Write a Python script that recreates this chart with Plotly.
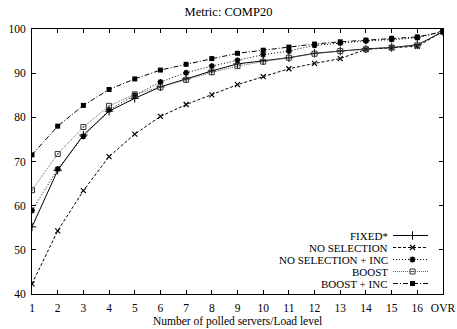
import plotly.graph_objects as go

categories = [str(i) for i in range(1, 17)] + ["OVR"]

fixed = [55.2, 68.0, 76.0, 81.4, 84.3, 86.9, 88.7, 90.5, 92.1, 92.8, 93.5, 94.5, 95.0, 95.5, 95.8, 96.4, 99.4]
no_sel = [42.3, 54.3, 63.4, 71.1, 76.2, 80.2, 82.9, 85.1, 87.4, 89.2, 91.0, 92.2, 93.3, 95.4, 95.8, 96.1, 99.4]
no_sel_inc = [58.9, 68.3, 75.7, 81.7, 85.0, 88.0, 90.1, 91.6, 92.9, 94.2, 95.0, 96.3, 96.8, 97.3, 97.6, 98.0, 99.4]
boost = [63.5, 71.7, 77.8, 82.6, 85.2, 86.8, 88.5, 90.2, 91.6, 92.6, 93.5, 94.4, 95.0, 95.4, 95.8, 96.3, 99.4]
boost_inc = [71.5, 78.0, 82.7, 86.3, 88.7, 90.7, 92.0, 93.3, 94.5, 95.2, 95.9, 96.6, 97.1, 97.5, 97.9, 98.2, 99.4]

series_names = ["FIXED*", "NO SELECTION", "NO SELECTION + INC", "BOOST", "BOOST + INC"]
series_values = [fixed, no_sel, no_sel_inc, boost, boost_inc]
y_ticks = [40, 50, 60, 70, 80, 90, 100]

FONT = "Liberation Serif"
styles = [
    dict(line=dict(color="black", width=1, dash="solid"),
         marker=dict(symbol="cross-thin", size=6, color="black", line=dict(color="black", width=1))),
    dict(line=dict(color="black", width=1, dash="3px,2px"),
         marker=dict(symbol="x-thin", size=5, color="black", line=dict(color="black", width=1.2))),
    dict(line=dict(color="black", width=1, dash="1px,2px"),
         marker=dict(symbol="asterisk-open", size=5, color="black", line=dict(color="black", width=1.5))),
    dict(line=dict(color="#666666", width=1, dash="1px,1px"),
         marker=dict(symbol="square-open-dot", size=5, color="#333333", line=dict(color="#333333", width=1))),
    dict(line=dict(color="black", width=1, dash="5px,2px,1px,2px"),
         marker=dict(symbol="square", size=5, color="black", line=dict(color="black", width=0))),
]

fig = go.Figure()
for name, vals, st in zip(series_names, series_values, styles):
    fig.add_trace(go.Scatter(x=categories, y=vals, mode="lines+markers", name=name,
                             line=st["line"], marker=st["marker"], showlegend=False))

# manual legend (text left, sample right) in an overlay pixel-like axis
leg_rows = [235.5, 247.5, 259.5, 271.5, 283.5]
for name, st, yy in zip(series_names, styles, leg_rows):
    fig.add_trace(go.Scatter(x=[393, 428], y=[yy, yy], mode="lines", line=st["line"],
                             xaxis="x2", yaxis="y2", showlegend=False, hoverinfo="skip"))
    fig.add_trace(go.Scatter(x=[412.5], y=[yy], mode="markers", marker=st["marker"],
                             xaxis="x2", yaxis="y2", showlegend=False, hoverinfo="skip"))
    fig.add_annotation(x=389, y=yy, xref="x2", yref="y2", text=name, showarrow=False,
                       xanchor="right", yanchor="middle", borderpad=0,
                       font=dict(family=FONT, size=11, color="black"))

# x-axis title placed as annotation below the plot
fig.add_annotation(x=0.5, y=-27 / 265, xref="paper", yref="paper",
                   text="Number of polled servers/Load level", showarrow=False,
                   xanchor="center", yanchor="middle",
                   font=dict(family=FONT, size=11.5, color="black"))

fig.update_layout(
    width=457, height=329,
    margin=dict(l=32, r=14, t=29, b=35),
    plot_bgcolor="white", paper_bgcolor="white",
    font=dict(family=FONT, size=12, color="black"),
    title=dict(text="Metric: COMP20", x=0.5, xanchor="center", y=1 - 12 / 329, yanchor="middle",
               font=dict(family=FONT, size=12.5, color="black")),
    xaxis=dict(type="category", categoryorder="array", categoryarray=categories,
               range=[0, 16], showgrid=False, zeroline=False, automargin=False,
               showline=True, linecolor="black", linewidth=1, mirror="ticks",
               ticks="inside", ticklen=4, tickcolor="black", ticklabelstandoff=3,
               tickfont=dict(family=FONT, size=11.5)),
    yaxis=dict(range=[40, 100], tickvals=y_ticks, showgrid=False, zeroline=False, automargin=False,
               showline=True, linecolor="black", linewidth=1, mirror="ticks",
               ticks="inside", ticklen=4, tickcolor="black", ticklabelstandoff=3,
               tickfont=dict(family=FONT, size=11.5)),
    xaxis2=dict(overlaying="x", range=[32, 443], visible=False, fixedrange=True),
    yaxis2=dict(overlaying="y", range=[294, 29], visible=False, fixedrange=True),
)

fig.write_html("out.html")
